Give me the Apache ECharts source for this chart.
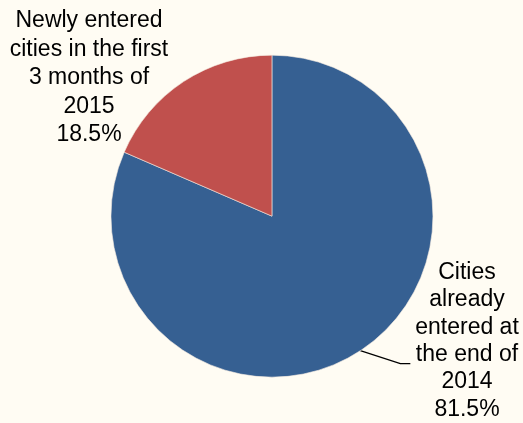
<!DOCTYPE html>
<html>
<head>
<meta charset="utf-8">
<script src="https://cdn.jsdelivr.net/npm/echarts@6/dist/echarts.min.js"></script>
<style>
html,body{margin:0;padding:0;background:#FFFCF3;}
#c{width:523px;height:423px;}
</style>
</head>
<body>
<div id="c"></div>
<script>
var categories = ['Cities\nalready\nentered at\nthe end of\n2014', 'Newly entered\ncities in the first\n3 months of\n2015'];
var values = [81.5, 18.5];
var colors = ['#366092', '#C0504D'];
var labelLineHeights = [27.3, 28.5];

var chart = echarts.init(document.getElementById('c'), null, {renderer: 'canvas'});
chart.setOption({
  backgroundColor: '#FFFCF3',
  animation: false,
  series: [{
    type: 'pie',
    center: ['52%', '51.1%'],
    radius: 161,
    startAngle: 90,
    clockwise: true,
    avoidLabelOverlap: false,
    data: categories.map(function (c, i) {
      return {name: c, value: values[i], itemStyle: {color: colors[i]},
              label: {lineHeight: labelLineHeights[i]}};
    }),
    itemStyle: {borderColor: '#F5EBE0', borderWidth: 0.6},
    label: {
      show: true,
      position: 'outside',
      overflow: 'none',
      width: 200,
      formatter: function (p) { return p.name + '\n' + p.value.toFixed(1) + '%'; },
      fontFamily: '"Liberation Sans", Arial, sans-serif',
      fontSize: 23,
      color: '#000',
      align: 'center'
    },
    labelLine: {
      show: true,
      lineStyle: {color: '#000', width: 1.3}
    },
    labelLayout: function (params) {
      var p0 = params.labelLinePoints ? params.labelLinePoints[0] : [0, 0];
      if (params.dataIndex === 0) {
        return {
          x: 467, y: 341, align: 'center', verticalAlign: 'middle',
          labelLinePoints: [p0, [p0[0] + 40, p0[1] + 13], [p0[0] + 50, p0[1] + 13]]
        };
      }
      return {
        x: 89, y: 78, align: 'center', verticalAlign: 'middle',
        labelLinePoints: [p0, p0, p0]
      };
    }
  }]
});
</script>
</body>
</html>
